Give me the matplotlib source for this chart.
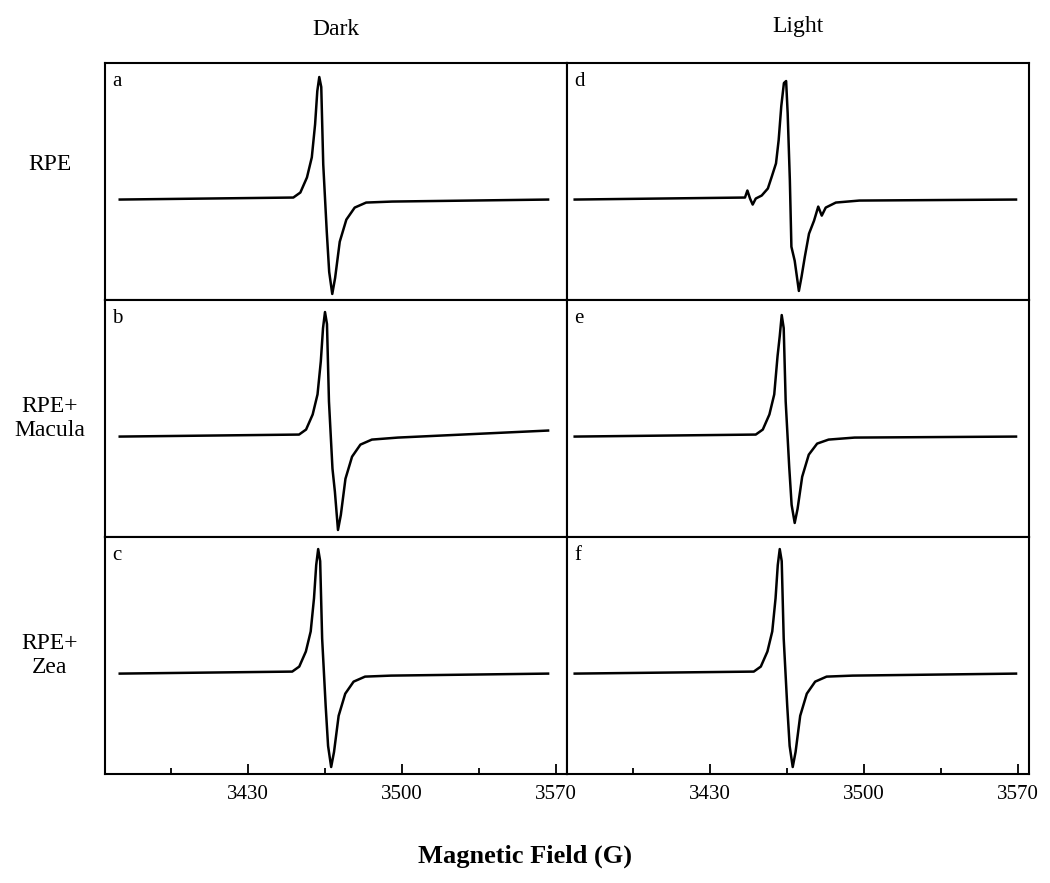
import matplotlib
matplotlib.use("Agg")
import matplotlib.pyplot as plt

plt.rcParams['font.family'] = ['Liberation Serif', 'DejaVu Serif']

# Field (G) and signal (arbitrary units, baseline = 0)
a_x = [3371.7,3450.6,3453.8,3456.8,3459.0,3460.5,3461.5,3462.4,3463.3,3464.2,3465.8,3466.9,3468.3,3469.6,3471.7,3474.7,3478.5,3483.7,3495.5,3566.4]
a_y = [0,2,7,22,42,75,108,122,112,35,-32,-72,-94,-78,-42,-20,-8,-3,-2,0]
b_x = [3371.7,3453.2,3456.4,3459.4,3461.6,3463.1,3464.1,3465.0,3465.9,3466.8,3468.4,3469.5,3470.9,3472.2,3474.3,3477.3,3481.1,3486.3,3498.1,3566.4]
b_y = [0,2,7,22,42,75,108,124,112,35,-32,-55,-93,-78,-42,-20,-8,-3,-1,6]
c_x = [3371.7,3450.1,3453.3,3456.3,3458.5,3460.0,3461.0,3461.9,3462.8,3463.7,3465.3,3466.4,3467.8,3469.1,3471.2,3474.2,3478.0,3483.2,3495.0,3566.4]
c_y = [0,2,7,22,42,75,108,124,112,35,-32,-72,-93,-78,-42,-20,-8,-3,-2,0]
d_x = [3368.5,3445.9,3447.0,3448.2,3449.4,3450.8,3453.5,3456.3,3458.1,3460.0,3461.2,3462.4,3463.6,3464.6,3465.3,3466.3,3467.0,3468.5,3470.4,3471.6,3473.1,3475.0,3477.3,3479.2,3480.8,3482.6,3487.2,3497.9,3569.1]
d_y = [0,2,9,1,-5,1,4,11,23,36,59,93,116,118,86,19,-47,-61,-91,-77,-57,-34,-21,-7,-16,-8,-3,-1,0]
e_x = [3368.5,3450.8,3454.0,3457.0,3459.2,3460.7,3461.7,3462.6,3463.5,3464.4,3466.0,3467.1,3468.5,3469.8,3471.9,3474.9,3478.7,3483.9,3495.7,3569.1]
e_y = [0,2,7,22,42,80,100,121,108,35,-30,-68,-86,-72,-40,-18,-7,-3,-1,0]
f_x = [3368.5,3449.9,3453.1,3456.1,3458.3,3459.8,3460.8,3461.7,3462.6,3463.5,3465.1,3466.2,3467.6,3468.9,3471.0,3474.0,3477.8,3483.0,3494.8,3569.1]
f_y = [0,2,7,22,42,75,108,124,112,35,-32,-72,-93,-78,-42,-20,-8,-3,-2,0]

panels = [[(a_x, a_y, 'a'), (d_x, d_y, 'd')],
          [(b_x, b_y, 'b'), (e_x, e_y, 'e')],
          [(c_x, c_y, 'c'), (f_x, f_y, 'f')]]
col_titles = ['Dark', 'Light']
row_labels = ['RPE', 'RPE+\nMacula', 'RPE+\nZea']
ticks = [3430, 3500, 3570]
minor = [3395, 3465, 3535]

fig = plt.figure(figsize=(10.5, 8.83), dpi=100)
lefts = [0.1, 0.54]
w = 0.44
top, bottom = 0.9287, 0.1234
h = (top - bottom) / 3
for r in range(3):
    for c in range(2):
        x, y, lab = panels[r][c]
        ax = fig.add_axes([lefts[c], top - (r + 1) * h, w, h])
        ax.plot(x, y, color='black', lw=1.8, solid_joinstyle='round')
        ax.set_xlim(3365, 3575)
        ax.set_ylim(-100, 136)
        ax.set_yticks([])
        for s in ax.spines.values():
            s.set_linewidth(1.5)
        ax.text(0.015, 0.96, lab, transform=ax.transAxes, va='top', ha='left', fontsize=15)
        if r == 2:
            ax.set_xticks(ticks)
            ax.set_xticks(minor, minor=True)
            ax.tick_params(axis='x', direction='in', length=7, width=1.3, labelsize=15, pad=8)
            ax.tick_params(axis='x', which='minor', direction='in', length=4, width=1.3)
        else:
            ax.set_xticks([])
        if r == 0:
            ax.set_title(col_titles[c], fontsize=17, pad=20 if c == 0 else 22)
        if c == 0:
            ax.text(-0.12, 0.57 if r == 0 else 0.5, row_labels[r], transform=ax.transAxes,
                    ha='center', va='center', fontsize=17)

fig.text(0.5, 0.03, 'Magnetic Field (G)', ha='center', va='center', fontsize=19, fontweight='bold')
fig.savefig('out.png', dpi=100, facecolor='white')
